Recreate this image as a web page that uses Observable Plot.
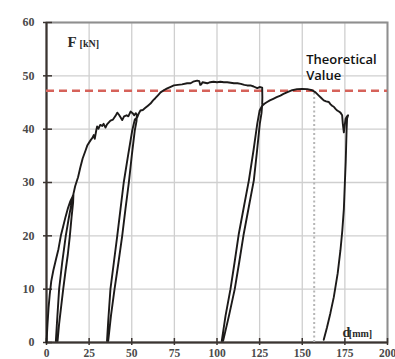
<!DOCTYPE html>
<html>
<head>
<meta charset="utf-8">
<script src="https://cdn.jsdelivr.net/npm/d3@7"></script>
<script src="https://cdn.jsdelivr.net/npm/@observablehq/plot@0.6"></script>
<style>
  html, body { margin: 0; padding: 0; background: #fff; overflow: hidden; }
  #chart svg { display: block; }
</style>
</head>
<body>
<div id="chart"></div>
<script>
// Displacement d [mm] along the recorded load path (loading, unload/reload cycles)
const dispMm = [
  0, 0.6, 1.2, 1.9, 2.8, 4, 5.5, 7, 8.4, 9.8, 11.2, 12.6, 14, 15.2, 15.8,
  15.6, 14.7, 13.7, 12.5, 11.2, 9.8, 8.5, 7.4, 6.5,
  5.5, 6.2, 7.4, 9.2, 11.3, 13, 14.6, 15.9, 16.8,
  17.5, 18.5, 19.9, 21.2, 22.9, 24, 25.8, 27, 27.7, 28.3, 29.2, 29.7, 30.5, 31.5, 32.7, 33.5, 34.6, 35.5,
  37.5, 39, 40.5, 41.5, 42.5, 43.5, 44.4, 45.5, 47, 48, 49.3, 50.5, 51.5, 52.3, 53,
  52.8, 51.8, 50, 48.3, 46.3, 44.4, 42.2, 39.9, 37.8, 36.2,
  35.5, 36.2, 37.5, 39.5, 41.5, 43.4, 45.3, 47.8, 50.3, 51.8, 53.2,
  54.2, 55.1, 56.5, 58, 59.5, 61, 62.5, 63.8, 65.5, 66.9, 68.8, 70.5, 72.5, 74.7, 77, 79.5, 82.5, 84.5, 86, 88.4,
  89.6, 90.2, 90.8, 91.5, 94.3, 96, 98, 100, 102, 104, 106, 108, 109.9, 112, 114, 116, 117.7, 119.6, 121.5, 123.6, 125, 126.5,
  126.6, 126.5,
  126.1, 125.1, 123.5, 121.6, 118.7, 115.7, 113, 110.4, 107, 103.6,
  102.8, 105, 107.9, 110.3, 112.8, 115.8, 118.7, 121.4, 123.6, 125, 126.5,
  128, 129.4, 131, 133, 135, 137.2, 139, 141, 144.1, 147, 150, 153, 155.8, 157.8, 159.7, 161, 162.6, 164, 165.6,
  166.5, 167.5, 168.5, 169.5, 170.5, 171.5, 172.4, 173.4, 173.8, 174.4, 174.8, 175.4, 176.2, 176.9,
  176.3, 176, 175.5, 175, 174.4, 173.5, 172.4, 170.8, 168.5, 166.5, 164.5, 162.6
];
// Force F [kN] at each point of the path
const forceKn = [
  0, 3.5, 6.5, 9, 11.5, 13.5, 15.5, 17.5, 20, 21.8, 23.6, 25.2, 26.5, 27.3, 27.8,
  26.2, 23.5, 20, 16.5, 13.5, 10, 6.5, 3.5, 0.3,
  0.3, 4, 10, 15, 20, 23.2, 26, 28, 29.3,
  30, 31, 32.9, 34.5, 36, 37, 37.9, 38.4, 38.9, 38.2, 39.8, 40.5, 40.1, 40.8, 40.6, 41, 40.3, 40.9,
  41.6, 41.8, 42.5, 43.1, 42.7, 42.2, 41.7, 42.4, 42.6, 42.4, 43.3, 43, 42.6, 43, 42.7,
  41.5, 39.8, 35, 30, 25, 20, 15, 10, 5, 0.3,
  0.3, 4, 10, 15, 20, 25, 30, 35, 39.8, 41.8, 42.2,
  43, 43.5, 43.6, 44, 44.4, 44.8, 45.4, 45.8, 46.4, 46.9, 47.3, 47.6, 47.9, 48.2, 48.3, 48.4, 48.6, 48.6, 48.9, 49.1,
  49, 48.3, 48.4, 48.8, 48.6, 48.8, 48.9, 48.8, 48.9, 48.8, 48.8, 48.7, 48.6, 48.6, 48.5, 48.3, 48.2, 48.2, 48, 47.7, 47.9, 47.8,
  46, 44.6,
  43, 41, 36, 30.4, 25.5, 20.4, 15, 10, 5, 0.3,
  0.3, 5, 10, 15, 20.4, 25.5, 30.4, 36, 41, 43.5, 44.4,
  44.8, 45.1, 45.4, 45.7, 46, 46.3, 46.6, 46.9, 47.3, 47.5, 47.55, 47.5, 47.3, 46.9, 46.3, 45.9, 45.4, 45.2, 45.1,
  44.7, 44.4, 44.2, 43.8, 43.5, 43.3, 43.1, 42.6, 41, 39.4, 40.5, 41.9, 42.4, 42.6,
  42, 39.8, 34, 30, 25, 21, 17.3, 13, 8.5, 5.5, 2.8, 0.5
];

const xTicks = [0, 25, 50, 75, 100, 125, 150, 175, 200];
const yTicks = [0, 10, 20, 30, 40, 50, 60];
const theoreticalKn = [47.2];
const theoreticalD = [157];
const theoreticalLines = ["Theoretical", "Value"];

const points = dispMm.map((d, i) => ({d, f: forceKn[i]}));

const serif = "'Liberation Serif', 'DejaVu Serif', serif";
const sans = "'Open Sans', 'Noto Sans', sans-serif";
const axisColor = "#3b3431";

const chart = Plot.plot({
  width: 395,
  height: 359,
  marginLeft: 46,
  marginRight: 8,
  marginTop: 22,
  marginBottom: 17,
  style: {background: "#fff", overflow: "visible"},
  x: {domain: [0, 200]},
  y: {domain: [0, 60]},
  marks: [
    Plot.gridX(xTicks, {stroke: "#cfcfcf", strokeOpacity: 1, strokeWidth: 1.3}),
    Plot.gridY(yTicks, {stroke: "#cfcfcf", strokeOpacity: 1, strokeWidth: 1.3}),
    Plot.frame({stroke: "#8f8f8f", strokeWidth: 2}),
    Plot.ruleX([0], {stroke: axisColor, strokeWidth: 2}),
    Plot.ruleY([0], {stroke: axisColor, strokeWidth: 2}),
    Plot.axisY(yTicks, {tickSize: 9, dx: 6, fill: "none", stroke: axisColor, strokeWidth: 1.5, label: null}),
    Plot.axisX(xTicks, {tickSize: 7, dy: -4, fill: "none", stroke: axisColor, strokeWidth: 1.5, label: null}),
    Plot.axisY(yTicks, {tickSize: 0, tickPadding: 12, fill: "#4a4a4a", fontFamily: serif, fontWeight: "bold", fontSize: 12, label: null}),
    Plot.axisX(xTicks, {tickSize: 0, tickPadding: 6, fill: "#4a4a4a", fontFamily: serif, fontWeight: "bold", fontSize: 11.5, label: null}),
    Plot.ruleX(theoreticalD, {y1: 0, y2: theoreticalKn[0], stroke: "#b5b5b5", strokeWidth: 2, strokeDasharray: "2,2.5"}),
    Plot.ruleY(theoreticalKn, {stroke: "#d6625a", strokeWidth: 2.6, strokeDasharray: "8,5"}),
    Plot.line(points, {x: "d", y: "f", stroke: "#1c1a19", strokeWidth: 1.9, strokeLinejoin: "round"}),
    Plot.text([theoreticalLines[0]], {x: 152.3, y: 52.3, text: d => d, textAnchor: "start", lineAnchor: "bottom", fontFamily: sans, fontWeight: 600, fontSize: 13, fill: "#111"}),
    Plot.text([theoreticalLines[1]], {x: 152.3, y: 49.2, text: d => d, textAnchor: "start", lineAnchor: "bottom", fontFamily: sans, fontWeight: 600, fontSize: 13, fill: "#111"}),
    Plot.text(["F"], {x: 12.3, y: 55.4, text: d => d, textAnchor: "start", lineAnchor: "bottom", fontFamily: serif, fontWeight: "bold", fontSize: 15, fill: "#2a2a2a"}),
    Plot.text(["[kN]"], {x: 19.4, y: 55.4, text: d => d, textAnchor: "start", lineAnchor: "bottom", fontFamily: serif, fontWeight: "bold", fontSize: 10, fill: "#2a2a2a"}),
    Plot.text(["d"], {x: 173.6, y: 1.0, text: d => d, textAnchor: "start", lineAnchor: "bottom", fontFamily: serif, fontWeight: "bold", fontSize: 14, fill: "#2a2a2a"}),
    Plot.text(["[mm]"], {x: 177.3, y: 1.0, text: d => d, textAnchor: "start", lineAnchor: "bottom", fontFamily: serif, fontWeight: "bold", fontSize: 10, fill: "#2a2a2a"})
  ]
});
document.getElementById("chart").appendChild(chart);
</script>
</body>
</html>
